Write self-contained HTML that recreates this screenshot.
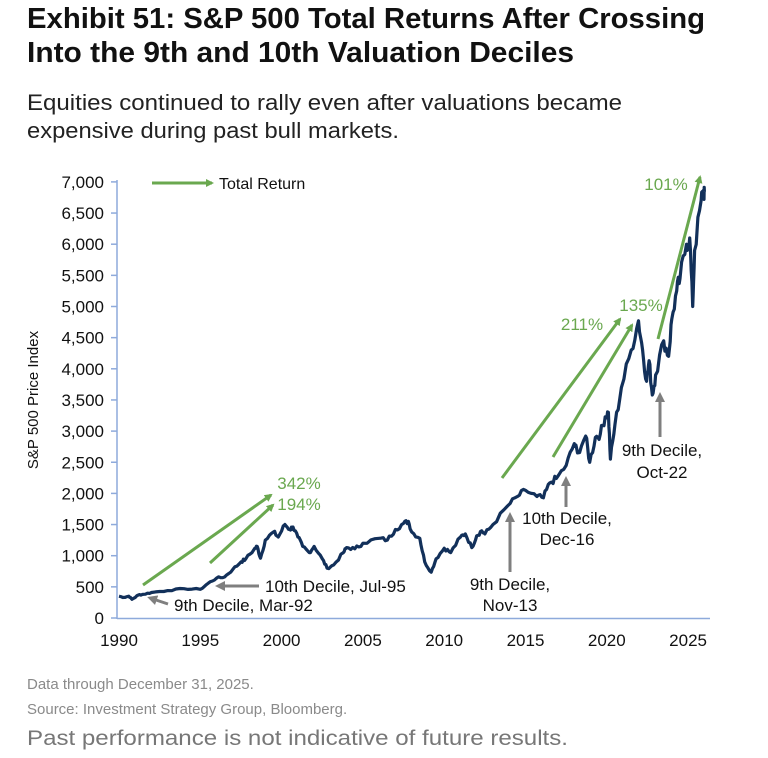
<!DOCTYPE html>
<html><head><meta charset="utf-8"><style>
html,body{margin:0;padding:0;background:#fff;}
svg{display:block;font-family:"Liberation Sans",sans-serif;}
</style></head><body>
<svg id="s" width="768" height="758" viewBox="0 0 768 758" xmlns="http://www.w3.org/2000/svg">
<defs>
<marker id="g" markerWidth="8" markerHeight="8" refX="6" refY="4" orient="auto" markerUnits="userSpaceOnUse"><path d="M0,0 L8,4 L0,8 Z" fill="#6aa84f"/></marker>
<marker id="k" markerWidth="10" markerHeight="10" refX="7" refY="5" orient="auto" markerUnits="userSpaceOnUse"><path d="M0,0 L10,5 L0,10 Z" fill="#7f7f7f"/></marker>
</defs>
<text x="27" y="28" font-size="29" font-weight="bold" fill="#111" textLength="678" lengthAdjust="spacingAndGlyphs">Exhibit 51: S&amp;P 500 Total Returns After Crossing</text>
<text x="27" y="62" font-size="29" font-weight="bold" fill="#111" textLength="547" lengthAdjust="spacingAndGlyphs">Into the 9th and 10th Valuation Deciles</text>
<text x="27" y="110" font-size="22" fill="#222" textLength="595" lengthAdjust="spacingAndGlyphs">Equities continued to rally even after valuations became</text>
<text x="27" y="138" font-size="22" fill="#222" textLength="372" lengthAdjust="spacingAndGlyphs">expensive during past bull markets.</text>

<g id="axes" stroke="#8eaadb" stroke-width="1.5" fill="none">
<line x1="117" y1="180" x2="117" y2="619"/>
<line x1="117" y1="618.5" x2="710" y2="618.5"/>
</g>
<g id="ticks" stroke="#8eaadb" stroke-width="1.5"></g>
<g id="ylab" font-size="17" fill="#111" text-anchor="end"></g>
<g id="xlab" font-size="17" fill="#111" text-anchor="middle"></g>
<text transform="translate(38,400) rotate(-90)" font-size="15" fill="#111" text-anchor="middle">S&amp;P 500 Price Index</text>

<path id="line" fill="none" stroke="#12305a" stroke-width="3.2" stroke-linejoin="round"/>

<g stroke="#6aa84f" stroke-width="3" fill="none">
<line x1="152" y1="183" x2="212" y2="183" marker-end="url(#g)"/>
<line x1="143" y1="585" x2="271" y2="495" marker-end="url(#g)"/>
<line x1="210" y1="563" x2="273" y2="505" marker-end="url(#g)"/>
<line x1="502" y1="478" x2="620" y2="319" marker-end="url(#g)"/>
<line x1="553" y1="457" x2="632" y2="325" marker-end="url(#g)"/>
<line x1="658" y1="339" x2="700" y2="177" marker-end="url(#g)"/>
</g>
<text x="219" y="189" font-size="16" fill="#111">Total Return</text>
<g font-size="17" fill="#6aa84f" text-anchor="middle">
<text x="299" y="489">342%</text>
<text x="299" y="510">194%</text>
<text x="582" y="330">211%</text>
<text x="641" y="311">135%</text>
<text x="666" y="190">101%</text>
</g>

<g stroke="#7f7f7f" stroke-width="3" fill="none">
<line x1="168" y1="604" x2="150" y2="598" marker-end="url(#k)"/>
<line x1="259" y1="586" x2="218" y2="586" marker-end="url(#k)"/>
<line x1="510" y1="572" x2="510" y2="515" marker-end="url(#k)"/>
<line x1="566" y1="507" x2="566" y2="479" marker-end="url(#k)"/>
<line x1="660" y1="437" x2="660" y2="395" marker-end="url(#k)"/>
</g>
<g font-size="17" fill="#111">
<text x="174" y="611">9th Decile, Mar-92</text>
<text x="265" y="592">10th Decile, Jul-95</text>
<text x="510" y="590" text-anchor="middle">9th Decile,</text>
<text x="510" y="611" text-anchor="middle">Nov-13</text>
<text x="567" y="524" text-anchor="middle">10th Decile,</text>
<text x="567" y="545" text-anchor="middle">Dec-16</text>
<text x="662" y="456" text-anchor="middle">9th Decile,</text>
<text x="662" y="478" text-anchor="middle">Oct-22</text>
</g>

<g fill="#8a8a8a">
<text x="27" y="689" font-size="15">Data through December 31, 2025.</text>
<text x="27" y="714" font-size="15">Source: Investment Strategy Group, Bloomberg.</text>
<text x="27" y="745" font-size="21" fill="#777" textLength="541" lengthAdjust="spacingAndGlyphs">Past performance is not indicative of future results.</text>
</g>
</svg>
<script>
var NS="http://www.w3.org/2000/svg";
function X(y){return 119+(y-1990)*16.26;}
function Y(v){return 618-v*0.0623;}
var t=document.getElementById('ticks'),yl=document.getElementById('ylab'),xl=document.getElementById('xlab');
for(var v=0;v<=7000;v+=500){
 var l=document.createElementNS(NS,'line');l.setAttribute('x1',111);l.setAttribute('x2',117);l.setAttribute('y1',Y(v));l.setAttribute('y2',Y(v));t.appendChild(l);
 var s=document.createElementNS(NS,'text');s.setAttribute('x',104);s.setAttribute('y',Y(v)+6);s.textContent=v.toLocaleString('en-US');yl.appendChild(s);
}
for(var y=1990;y<=2025;y+=5){
 var s=document.createElementNS(NS,'text');s.setAttribute('x',X(y));s.setAttribute('y',646);s.textContent=y;xl.appendChild(s);
}
var d=[[1990,350],[1990.3,330],[1990.6,350],[1990.8,300],[1991.2,370],[1991.5,380],[1992,410],[1993,440],[1994,470],[1995,460],[1995.5,560],[1996,640],[1996.5,660],[1997,780],[1997.5,900],[1997.8,950],[1998.3,1100],[1998.5,1150],[1998.7,960],[1999,1250],[1999.5,1380],[1999.8,1300],[2000.2,1500],[2000.5,1420],[2000.7,1460],[2001,1300],[2001.3,1150],[2001.7,1050],[2002,1150],[2002.5,950],[2002.8,800],[2003.2,850],[2003.8,1050],[2004,1130],[2004.5,1110],[2005,1200],[2006,1280],[2006.5,1250],[2007,1420],[2007.5,1520],[2007.8,1550],[2008,1380],[2008.5,1280],[2008.8,900],[2009.2,735],[2009.5,950],[2010,1120],[2010.4,1050],[2011,1300],[2011.3,1350],[2011.7,1130],[2012,1320],[2012.3,1400],[2012.5,1350],[2013,1500],[2013.9,1800],[2014.5,1950],[2015,2050],[2015.7,1950],[2016.1,1930],[2016.5,2170],[2016.9,2240],[2017.5,2450],[2018,2800],[2018.2,2650],[2018.7,2920],[2018.95,2500],[2019.3,2900],[2019.6,2950],[2019.9,3230],[2020.1,3300],[2020.22,2550],[2020.5,3100],[2020.9,3700],[2021.5,4300],[2021.95,4770],[2022.2,4300],[2022.45,3800],[2022.6,4130],[2022.8,3580],[2023,3900],[2023.5,4450],[2023.8,4200],[2024,4800],[2024.3,5250],[2024.5,5450],[2024.9,6000],[2025.1,6100],[2025.28,5000],[2025.4,5900],[2025.8,6700],[2025.95,6850],[2026,6840]];
var p='',seed=7;function r(){seed=(seed*9301+49297)%233280;return seed/233280-0.5;}
for(var i=0;i<d.length;i++){
 if(i>0){var a=d[i-1],b=d[i];for(var k=1;k<4;k++){var f=k/4;var yy=a[0]+(b[0]-a[0])*f,vv=a[1]+(b[1]-a[1])*f;vv*=1+r()*0.05;p+='L'+X(yy).toFixed(1)+','+Y(vv).toFixed(1);}}
 p+=(i?'L':'M')+X(d[i][0]).toFixed(1)+','+Y(d[i][1]).toFixed(1);
}
document.getElementById('line').setAttribute('d',p);
</script>
</body></html>
